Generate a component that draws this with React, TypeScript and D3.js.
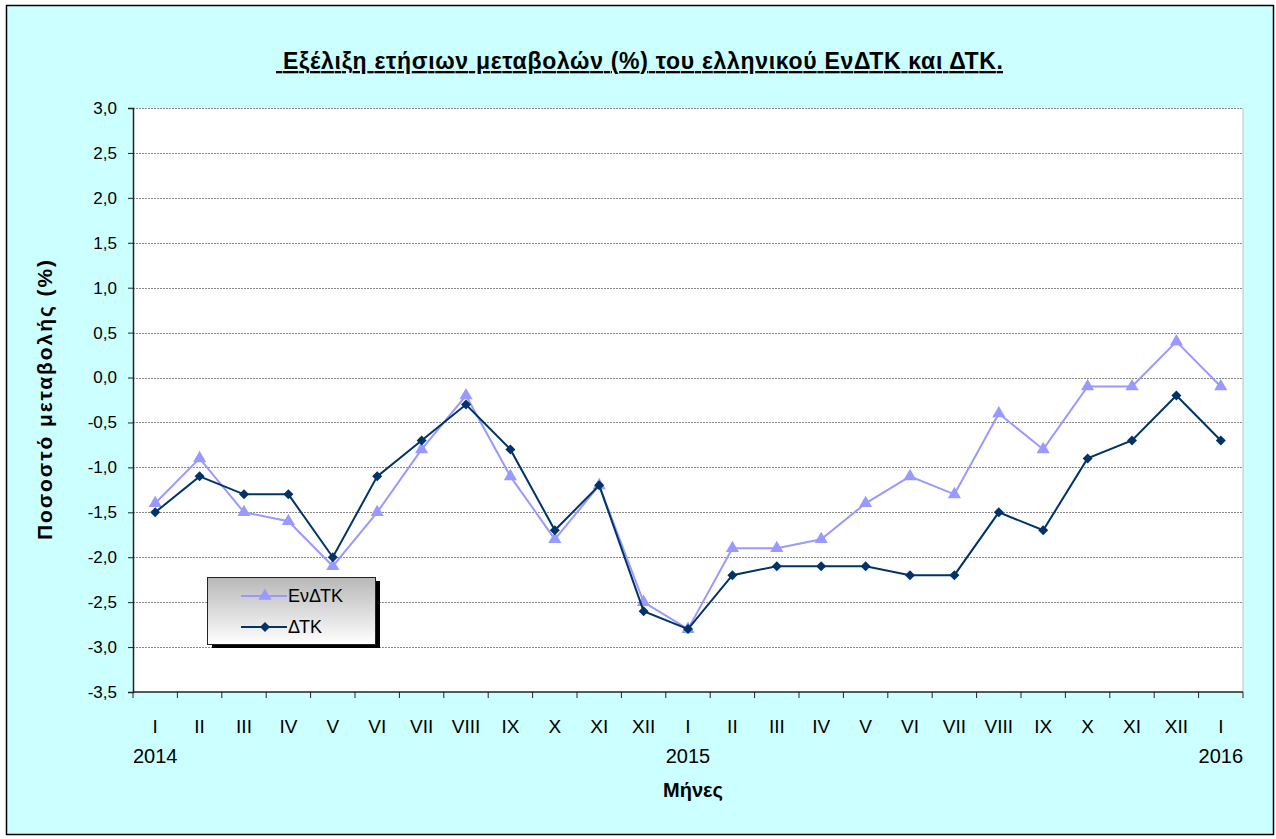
import { useEffect, useRef } from 'react'
import * as d3 from 'd3'

const months = ['I', 'II', 'III', 'IV', 'V', 'VI', 'VII', 'VIII', 'IX', 'X', 'XI', 'XII',
  'I', 'II', 'III', 'IV', 'V', 'VI', 'VII', 'VIII', 'IX', 'X', 'XI', 'XII', 'I']
const years = [{ idx: 0, label: '2014' }, { idx: 12, label: '2015' }, { idx: 24, label: '2016' }]

const hicp = [-1.4, -0.9, -1.5, -1.6, -2.1, -1.5, -0.8, -0.2, -1.1, -1.8, -1.2, -2.5,
  -2.8, -1.9, -1.9, -1.8, -1.4, -1.1, -1.3, -0.4, -0.8, -0.1, -0.1, 0.4, -0.1]
const cpi = [-1.5, -1.1, -1.3, -1.3, -2.0, -1.1, -0.7, -0.3, -0.8, -1.7, -1.2, -2.6,
  -2.8, -2.2, -2.1, -2.1, -2.1, -2.2, -2.2, -1.5, -1.7, -0.9, -0.7, -0.2, -0.7]
const yTicks = [3.0, 2.5, 2.0, 1.5, 1.0, 0.5, 0.0, -0.5, -1.0, -1.5, -2.0, -2.5, -3.0, -3.5]

const series = [
  { name: 'ΕνΔΤΚ', values: hicp, color: '#9999FF', marker: 'triangle' },
  { name: 'ΔΤΚ', values: cpi, color: '#003366', marker: 'diamond' },
]

const fmt = (v: number) => v.toFixed(1).replace('.', ',')

export default function App() {
  const svgRef = useRef<SVGSVGElement>(null)
  const width = 1276
  const height = 839

  useEffect(() => {
    if (!svgRef.current) return
    const svg = d3.select(svgRef.current)
    svg.selectAll('*').remove()

    const font = 'Arial, "Liberation Sans", sans-serif'
    const margin = { top: 108, left: 133, right: 33, bottom: 147 }
    const innerW = width - margin.left - margin.right
    const innerH = height - margin.top - margin.bottom

    // chart background + frame
    svg.append('rect').attr('x', 6.5).attr('y', 5.5).attr('width', 1267).attr('height', 829)
      .attr('fill', '#CCFFFF').attr('stroke', '#000').attr('stroke-width', 1.5)

    svg.append('text').attr('x', 276).attr('y', 69)
      .attr('font-family', font).attr('font-size', 23).attr('font-weight', 'bold')
      .attr('text-decoration', 'underline').attr('textLength', 727)
      .text('\u00a0Εξέλιξη ετήσιων μεταβολών (%) του ελληνικού ΕνΔΤΚ και ΔΤΚ.')

    const g = svg.append('g').attr('transform', `translate(${margin.left},${margin.top})`)

    const x = d3.scaleBand<number>().domain(d3.range(months.length)).range([0, innerW])
    const y = d3.scaleLinear().domain([-3.5, 3.0]).range([innerH, 0])

    g.append('rect').attr('width', innerW).attr('height', innerH).attr('fill', '#fff')
    g.append('line').attr('x1', innerW).attr('x2', innerW).attr('y1', 0).attr('y2', innerH)
      .attr('stroke', '#c0c0c0')

    // gridlines
    g.append('g').selectAll('line').data(yTicks.filter(v => v > -3.5)).join('line')
      .attr('x1', 0).attr('x2', innerW)
      .attr('y1', d => Math.round(y(d)) + 0.5).attr('y2', d => Math.round(y(d)) + 0.5)
      .attr('stroke', '#888').attr('stroke-dasharray', '2,1')

    // Y axis
    const yAxis = g.append('g')
      .call(d3.axisLeft(y).tickValues(yTicks).tickFormat(d => fmt(+d)).tickSize(5).tickPadding(11))
    yAxis.selectAll('text').attr('font-family', font).attr('font-size', 17).attr('fill', '#000')

    // X axis
    const xAxis = g.append('g').attr('transform', `translate(0,${innerH})`)
    xAxis.append('line').attr('x1', 0).attr('x2', innerW).attr('stroke', '#222').attr('stroke-width', 1.5)
    xAxis.selectAll('line.tk').data(d3.range(months.length + 1)).join('line').attr('class', 'tk')
      .attr('x1', i => i * x.step()).attr('x2', i => i * x.step())
      .attr('y1', 0).attr('y2', 6).attr('stroke', '#222')
    xAxis.selectAll('text.m').data(months).join('text').attr('class', 'm')
      .attr('x', (_, i) => x(i)! + x.bandwidth() / 2).attr('y', 41).attr('text-anchor', 'middle')
      .attr('font-family', font).attr('font-size', 19).text(d => d)
    xAxis.selectAll('text.yr').data(years).join('text').attr('class', 'yr')
      .attr('x', d => x(d.idx)! + x.bandwidth() / 2).attr('y', 71).attr('text-anchor', 'middle')
      .attr('font-family', font).attr('font-size', 20).text(d => d.label)

    yAxis.select('.domain').attr('stroke', '#222').attr('stroke-width', 1.5)
    yAxis.selectAll('.tick line').attr('stroke', '#222')

    // axis titles
    svg.append('text').attr('x', 693).attr('y', 797).attr('text-anchor', 'middle')
      .attr('font-family', font).attr('font-size', 20).attr('font-weight', 'bold').text('Μήνες')
    svg.append('text').attr('transform', `translate(52,400) rotate(-90)`)
      .attr('text-anchor', 'middle').attr('font-family', font).attr('font-size', 21)
      .attr('font-weight', 'bold').attr('textLength', 280).text('Ποσοστό μεταβολής (%)')

    const tri = d3.symbol().type(d3.symbolTriangle).size(75)
    const sq = d3.symbol().type(d3.symbolSquare).size(50)
    const markerPath = (m: string) => (m === 'triangle' ? tri() : sq())
    const markerRot = (m: string) => (m === 'triangle' ? '' : ' rotate(45)')

    const line = d3.line<number>()
      .x((_, i) => x(i)! + x.bandwidth() / 2)
      .y(d => y(d))

    series.forEach(s => {
      g.append('path').datum(s.values).attr('d', line)
        .attr('fill', 'none').attr('stroke', s.color).attr('stroke-width', 2)
      g.append('g').selectAll('path').data(s.values).join('path')
        .attr('d', markerPath(s.marker))
        .attr('transform', (d, i) => `translate(${x(i)! + x.bandwidth() / 2},${y(d)})${markerRot(s.marker)}`)
        .attr('fill', s.color)
    })

    // legend
    const defs = svg.append('defs')
    const grad = defs.append('linearGradient').attr('id', 'lg').attr('x1', 0).attr('x2', 0).attr('y1', 0).attr('y2', 1)
    grad.append('stop').attr('offset', '0%').attr('stop-color', '#b8b8b8')
    grad.append('stop').attr('offset', '100%').attr('stop-color', '#ffffff')

    const legend = svg.append('g').attr('transform', 'translate(207,577)')
    legend.append('rect').attr('x', 5).attr('y', 4).attr('width', 168).attr('height', 67).attr('fill', '#000')
    legend.append('rect').attr('x', 0.5).attr('y', 0.5).attr('width', 168).attr('height', 67)
      .attr('fill', 'url(#lg)').attr('stroke', '#222')
    series.forEach((s, i) => {
      const ly = 19 + i * 31
      legend.append('line').attr('x1', 34).attr('x2', 80).attr('y1', ly).attr('y2', ly)
        .attr('stroke', s.color).attr('stroke-width', 2)
      legend.append('path').attr('d', markerPath(s.marker))
        .attr('transform', `translate(58,${ly})${markerRot(s.marker)}`).attr('fill', s.color)
      legend.append('text').attr('x', 81).attr('y', ly + 6).attr('font-family', font)
        .attr('font-size', 18).text(s.name)
    })
  }, [])

  return (
    <svg ref={svgRef} width={width} height={height}
      style={{ position: 'absolute', left: 0, top: 0, display: 'block' }} />
  )
}
